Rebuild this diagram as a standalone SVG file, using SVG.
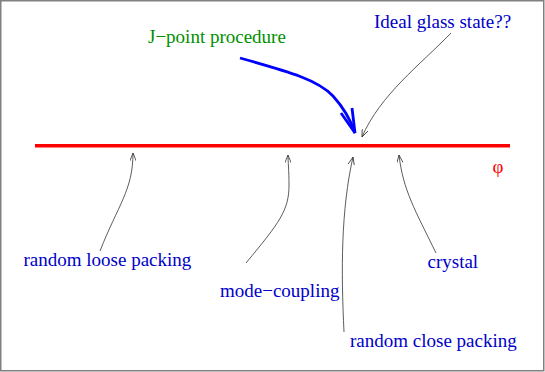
<svg xmlns="http://www.w3.org/2000/svg" width="545" height="372" viewBox="0 0 545 372">
<defs>
<style>
.lbl{font-family:"Liberation Serif","Times New Roman",serif;font-size:19px;fill:#0000c8}
.green{fill:#009000}
.red{fill:#ff0000}
.thin{fill:none;stroke:#333333;stroke-width:0.8;marker-end:url(#stick)}
</style>
<marker id="stick" viewBox="0 0 10 8" refX="10" refY="4" markerWidth="8" markerHeight="6.4" markerUnits="userSpaceOnUse" orient="auto">
<path d="M0,0 L10,4 L0,8" fill="none" stroke="#333333" stroke-width="1"/>
</marker>
</defs>
<rect x="0.75" y="0.75" width="543" height="370" fill="#ffffff" stroke="#808080" stroke-width="1.5"/>
<g id="axis">
<line x1="35" y1="145.7" x2="510" y2="145.7" stroke="#ff0000" stroke-width="3.4"/>
<text class="lbl red" x="492.5" y="173">φ</text>
</g>
<g id="jpoint"><text class="lbl green" x="148" y="43">J−point procedure</text></g>
<g id="ideal"><text class="lbl" x="374" y="28">Ideal glass state??</text></g>
<g id="rlp"><text class="lbl" x="23.5" y="266">random loose packing</text></g>
<g id="mct"><text class="lbl" x="220" y="297">mode−coupling</text></g>
<g id="crystal"><text class="lbl" x="427.5" y="268">crystal</text></g>
<g id="rcp"><text class="lbl" x="350" y="347">random close packing</text></g>
<g id="connectors">
<path d="M240,58 C290,72 318,80 333,96 C343,107 350,118 355,133" fill="none" stroke="#0000ff" stroke-width="2.8"/>
<polyline points="341,113 355,133 352,108" fill="none" stroke="#0000ff" stroke-width="2.8"/>
<path class="thin" d="M451,33 C420,65 380,95 362,137"/>
<path class="thin" d="M100,251 C118,205 133,190 133,153"/>
<path class="thin" d="M246,263 C280,222 289,210 289,185 C289,170 288,162 288,155"/>
<path class="thin" d="M344,332 C341,270 341,210 353,157"/>
<path class="thin" d="M436,253 C415,210 403,190 399,155"/>
</g>
</svg>
